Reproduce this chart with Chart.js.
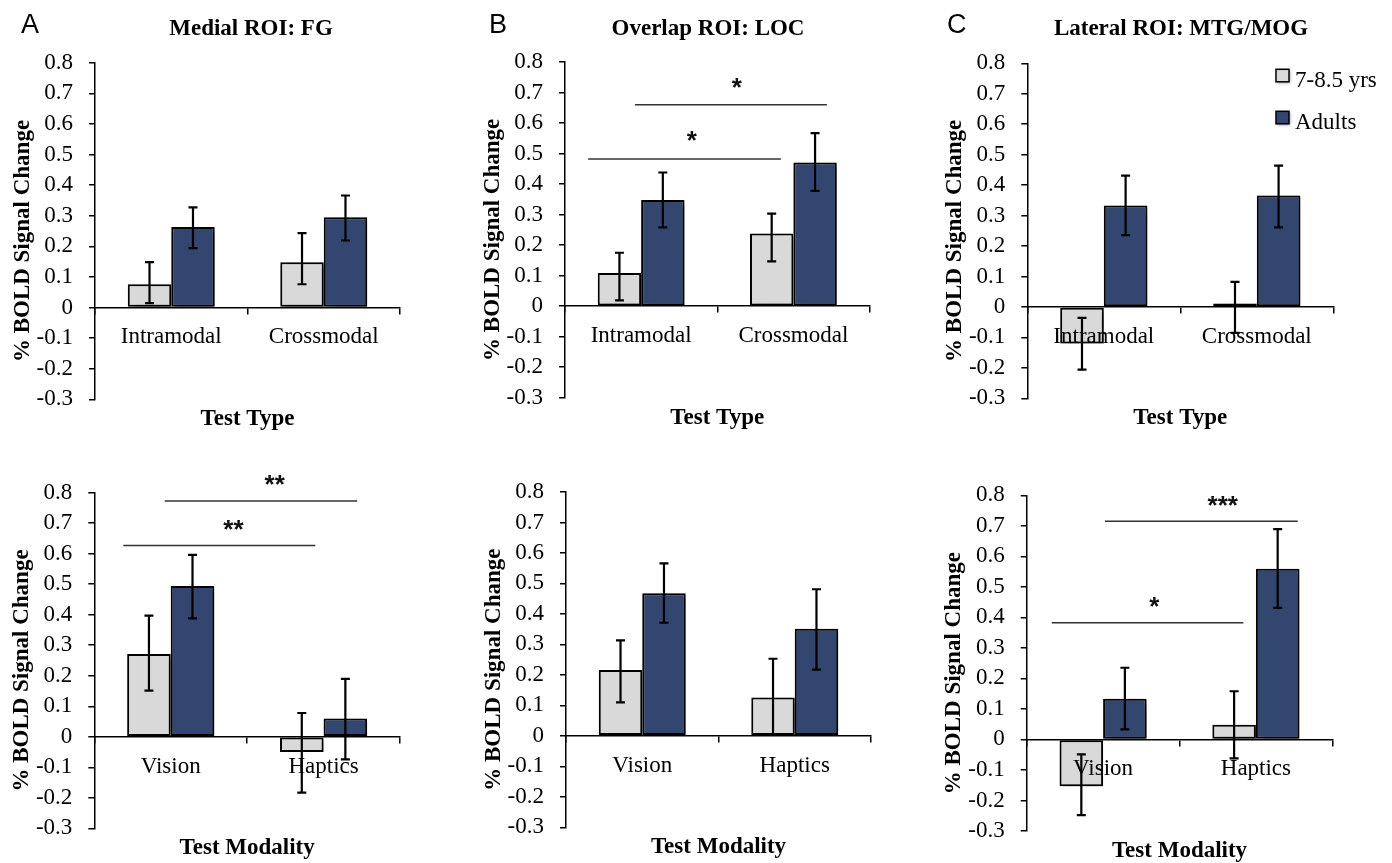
<!DOCTYPE html>
<html><head><meta charset="utf-8">
<script src="https://cdn.jsdelivr.net/npm/chart.js@4.4.1/dist/chart.umd.min.js"></script>
<style>
html,body{margin:0;padding:0;background:#fff;}
body{position:relative;width:1392px;height:863px;overflow:hidden;}
canvas{position:absolute;}
</style></head><body>
<canvas id="pA1"></canvas><canvas id="pB1"></canvas><canvas id="pC1"></canvas>
<canvas id="pA2"></canvas><canvas id="pB2"></canvas><canvas id="pC2"></canvas>
<script>
// ---------------- data ----------------
const seriesLabels = ['7-8.5 yrs', 'Adults'];
const testTypeCategories = ['Intramodal', 'Crossmodal'];
const testModalityCategories = ['Vision', 'Haptics'];
const yTickValues = [-0.3, -0.2, -0.1, 0, 0.1, 0.2, 0.3, 0.4, 0.5, 0.6, 0.7, 0.8];

// Medial ROI: FG — Test Type
const fgTypeChild = [0.076, 0.148];
const fgTypeChildErrTop = [0.148, 0.243];
const fgTypeChildErrBottom = [0.014, 0.076];
const fgTypeAdult = [0.263, 0.295];
const fgTypeAdultErrTop = [0.327, 0.366];
const fgTypeAdultErrBottom = [0.194, 0.219];

// Overlap ROI: LOC — Test Type
const locTypeChild = [0.109, 0.238];
const locTypeChildErrTop = [0.175, 0.303];
const locTypeChildErrBottom = [0.019, 0.147];
const locTypeAdult = [0.348, 0.471];
const locTypeAdultErrTop = [0.438, 0.567];
const locTypeAdultErrBottom = [0.258, 0.378];

// Lateral ROI: MTG/MOG — Test Type
const mtgTypeChild = [-0.12, 0.011];
const mtgTypeChildErrTop = [-0.036, 0.082];
const mtgTypeChildErrBottom = [-0.206, -0.085];
const mtgTypeAdult = [0.333, 0.366];
const mtgTypeAdultErrTop = [0.431, 0.464];
const mtgTypeAdultErrBottom = [0.236, 0.261];

// Medial ROI: FG — Test Modality
const fgModChild = [0.271, -0.05];
const fgModChildErrTop = [0.397, 0.078];
const fgModChildErrBottom = [0.151, -0.183];
const fgModAdult = [0.494, 0.06];
const fgModAdultErrTop = [0.596, 0.19];
const fgModAdultErrBottom = [0.388, -0.074];

// Overlap ROI: LOC — Test Modality
const locModChild = [0.216, 0.126];
const locModChildErrTop = [0.313, 0.253];
const locModChildErrBottom = [0.11, 0.003];
const locModAdult = [0.468, 0.351];
const locModAdultErrTop = [0.566, 0.481];
const locModAdultErrBottom = [0.371, 0.217];

// Lateral ROI: MTG/MOG — Test Modality
const mtgModChild = [-0.153, 0.048];
const mtgModChildErrTop = [-0.049, 0.158];
const mtgModChildErrBottom = [-0.248, -0.062];
const mtgModAdult = [0.133, 0.559];
const mtgModAdultErrTop = [0.235, 0.689];
const mtgModAdultErrBottom = [0.033, 0.431];

// significance brackets (category-index units, value units)
const locTypeSig = [
  {from: -0.348, to: 0.918, y: 0.482, text: '*', textX: 0.333, textY: 0.556},
  {from: -0.041, to: 1.22, y: 0.66, text: '*', textX: 0.629, textY: 0.73}
];
const fgModSig = [
  {from: -0.31, to: 0.946, y: 0.627, text: '**', textX: 0.41, textY: 0.694},
  {from: -0.039, to: 1.22, y: 0.773, text: '**', textX: 0.68, textY: 0.841}
];
const mtgModSig = [
  {from: -0.336, to: 0.918, y: 0.382, text: '*', textX: 0.335, textY: 0.449},
  {from: 0.012, to: 1.274, y: 0.715, text: '***', textX: 0.783, textY: 0.782}
];

// ---------------- style / layout ----------------
const SERIF = '"Liberation Serif", "Times New Roman", Times, serif';
const SANS = '"Liberation Sans", Arial, Helvetica, sans-serif';
const LIGHT = '#d9d9d9';
const DARK = '#33466f';
Chart.defaults.font.family = SERIF;
Chart.defaults.color = '#000';

const panels = [
  {id: 'pA1', canvas: [0, 0, 460, 430], plot: [95, 400, 62.7, 399.3], cats: testTypeCategories,
   child: [fgTypeChild, fgTypeChildErrTop, fgTypeChildErrBottom], adult: [fgTypeAdult, fgTypeAdultErrTop, fgTypeAdultErrBottom],
   title: 'Medial ROI: FG', titleX: 251, letter: 'A', letterX: 21, xTitle: 'Test Type', sig: [], legend: false},
  {id: 'pB1', canvas: [460, 0, 460, 430], plot: [565, 869.5, 62, 397.7], cats: testTypeCategories,
   child: [locTypeChild, locTypeChildErrTop, locTypeChildErrBottom], adult: [locTypeAdult, locTypeAdultErrTop, locTypeAdultErrBottom],
   title: 'Overlap ROI: LOC', titleX: 708, letter: 'B', letterX: 489, xTitle: 'Test Type', sig: locTypeSig, legend: false},
  {id: 'pC1', canvas: [920, 0, 472, 430], plot: [1027.3, 1333.3, 63.3, 398.3], cats: testTypeCategories,
   child: [mtgTypeChild, mtgTypeChildErrTop, mtgTypeChildErrBottom], adult: [mtgTypeAdult, mtgTypeAdultErrTop, mtgTypeAdultErrBottom],
   title: 'Lateral ROI: MTG/MOG', titleX: 1181, letter: 'C', letterX: 947, xTitle: 'Test Type', sig: [], legend: true},
  {id: 'pA2', canvas: [0, 430, 460, 433], plot: [94.3, 400, 492.7, 828.3], cats: testModalityCategories,
   child: [fgModChild, fgModChildErrTop, fgModChildErrBottom], adult: [fgModAdult, fgModAdultErrTop, fgModAdultErrBottom],
   xTitle: 'Test Modality', sig: fgModSig, legend: false},
  {id: 'pB2', canvas: [460, 430, 460, 433], plot: [566, 871, 492, 827.3], cats: testModalityCategories,
   child: [locModChild, locModChildErrTop, locModChildErrBottom], adult: [locModAdult, locModAdultErrTop, locModAdultErrBottom],
   xTitle: 'Test Modality', sig: [], legend: false},
  {id: 'pC2', canvas: [920, 430, 472, 433], plot: [1026.7, 1332.3, 495.3, 831], cats: testModalityCategories,
   child: [mtgModChild, mtgModChildErrTop, mtgModChildErrBottom], adult: [mtgModAdult, mtgModAdultErrTop, mtgModAdultErrBottom],
   xTitle: 'Test Modality', sig: mtgModSig, legend: false}
];
const panelById = {};
panels.forEach(p => panelById[p.id] = p);

function centeredGlyphBaseline(ctx, text, cy) {
  const m = ctx.measureText(text);
  return cy + (m.actualBoundingBoxAscent - m.actualBoundingBoxDescent) / 2;
}

const deco = {
  id: 'deco',
  beforeDatasetsDraw(chart) {
    const ctx = chart.ctx;
    ctx.save();
    ctx.shadowColor = 'rgba(0,0,0,0.55)';
    ctx.shadowBlur = 7;
    ctx.shadowOffsetX = 3;
    ctx.shadowOffsetY = 3;
  },
  afterDatasetsDraw(chart) {
    chart.ctx.restore();
  },
  afterDraw(chart) {
    const p = panelById[chart.canvas.id];
    const ctx = chart.ctx;
    const xs = chart.scales.x, ys = chart.scales.y;
    const area = chart.chartArea;
    const ox = p.canvas[0], oy = p.canvas[1];
    ctx.save();
    // error bars
    chart.data.datasets.forEach((ds, i) => {
      const meta = chart.getDatasetMeta(i);
      meta.data.forEach((bar, j) => {
        const yt = ys.getPixelForValue(ds.errTop[j]);
        const yb = ys.getPixelForValue(ds.errBottom[j]);
        ctx.strokeStyle = '#000';
        ctx.lineWidth = 2.2;
        ctx.beginPath();
        ctx.moveTo(bar.x, yt); ctx.lineTo(bar.x, yb);
        ctx.moveTo(bar.x - 4.5, yt); ctx.lineTo(bar.x + 4.5, yt);
        ctx.moveTo(bar.x - 4.5, yb); ctx.lineTo(bar.x + 4.5, yb);
        ctx.stroke();
      });
    });
    // significance brackets
    p.sig.forEach(s => {
      ctx.strokeStyle = '#333';
      ctx.lineWidth = 1.5;
      ctx.beginPath();
      const yy = ys.getPixelForValue(s.y);
      ctx.moveTo(xs.getPixelForValue(s.from), yy);
      ctx.lineTo(xs.getPixelForValue(s.to), yy);
      ctx.stroke();
      ctx.fillStyle = '#111';
      ctx.font = 'bold 26px ' + SANS;
      ctx.textAlign = 'center';
      ctx.textBaseline = 'alphabetic';
      const cy = ys.getPixelForValue(s.textY);
      ctx.fillText(s.text, xs.getPixelForValue(s.textX), centeredGlyphBaseline(ctx, s.text, cy));
    });
    ctx.fillStyle = '#000';
    // x axis title
    ctx.font = 'bold 23px ' + SERIF;
    ctx.textAlign = 'center';
    ctx.textBaseline = 'alphabetic';
    ctx.fillText(p.xTitle, (area.left + area.right) / 2, area.bottom + 26);
    // y axis title
    ctx.save();
    ctx.translate(area.left - 66.5, (area.top + area.bottom) / 2 + 10);
    ctx.rotate(-Math.PI / 2);
    ctx.fillText('% BOLD Signal Change', 0, 0);
    ctx.restore();
    // panel title + letter
    if (p.title) {
      ctx.font = 'bold 23px ' + SERIF;
      ctx.textAlign = 'center';
      ctx.fillText(p.title, p.titleX - ox, 35 - oy);
      ctx.font = '27px ' + SANS;
      ctx.textAlign = 'left';
      ctx.fillText(p.letter, p.letterX - ox, 33 - oy);
    }
    // legend
    if (p.legend) {
      ctx.font = '23px ' + SERIF;
      ctx.textAlign = 'left';
      chart.data.datasets.forEach((ds, i) => {
        const bx = area.right - 57.3, by = area.top + 6 + i * 42;
        ctx.save();
        ctx.shadowColor = 'rgba(0,0,0,0.4)';
        ctx.shadowBlur = 3; ctx.shadowOffsetX = 1; ctx.shadowOffsetY = 1;
        ctx.fillStyle = ds.backgroundColor;
        ctx.fillRect(bx, by, 13, 12.5);
        ctx.restore();
        ctx.strokeStyle = '#000'; ctx.lineWidth = 1.5;
        ctx.strokeRect(bx, by, 13, 12.5);
        ctx.fillStyle = '#000';
        ctx.fillText(ds.label, area.right - 38.3, by + 17.5);
      });
    }
    ctx.restore();
  }
};

const Y_W = 60;
function makeChart(p) {
  const [cx, cy, cw, ch] = p.canvas;
  const [l, r, t, b] = p.plot;
  const el = document.getElementById(p.id);
  el.width = cw; el.height = ch;
  el.style.left = cx + 'px'; el.style.top = cy + 'px';
  el.style.width = cw + 'px'; el.style.height = ch + 'px';
  const barStyle = {borderColor: '#000', borderWidth: 2, borderSkipped: false};
  return new Chart(el, {
    type: 'bar',
    data: {
      labels: p.cats,
      datasets: [
        Object.assign({label: seriesLabels[0], data: p.child[0], errTop: p.child[1], errBottom: p.child[2], backgroundColor: LIGHT}, barStyle),
        Object.assign({label: seriesLabels[1], data: p.adult[0], errTop: p.adult[1], errBottom: p.adult[2], backgroundColor: DARK}, barStyle)
      ]
    },
    options: {
      responsive: false,
      animation: false,
      devicePixelRatio: 1,
      categoryPercentage: 0.57,
      barPercentage: 1.0,
      layout: {padding: {left: l - cx - Y_W, right: cx + cw - r, top: t - cy, bottom: cy + ch - b}},
      plugins: {legend: {display: false}, tooltip: {enabled: false}, title: {display: false}},
      scales: {
        x: {
          type: 'category',
          position: {y: 0},
          offset: true,
          grid: {offset: true, drawOnChartArea: false, drawTicks: true, tickLength: 6, color: '#000', lineWidth: 1.5, z: 1},
          border: {display: true, color: '#000', width: 1.5, z: 1},
          ticks: {padding: 10, font: {size: 23, family: SERIF}, color: '#000', maxRotation: 0, autoSkip: false, z: 1},
          afterFit: s => { s.height = 0; }
        },
        y: {
          type: 'linear',
          position: 'left',
          min: -0.3, max: 0.8,
          afterBuildTicks: s => { s.ticks = yTickValues.map(v => ({value: v})); },
          ticks: {padding: 16, font: {size: 23, family: SERIF}, color: '#000', autoSkip: false,
                  callback: v => String(Math.round(v * 10) / 10)},
          grid: {drawOnChartArea: false, drawTicks: true, tickLength: 6, color: '#000', lineWidth: 1.5},
          border: {display: true, color: '#000', width: 1.5},
          afterFit: s => { s.width = Y_W; }
        }
      }
    },
    plugins: [deco]
  });
}
panels.forEach(makeChart);
</script>
</body></html>
